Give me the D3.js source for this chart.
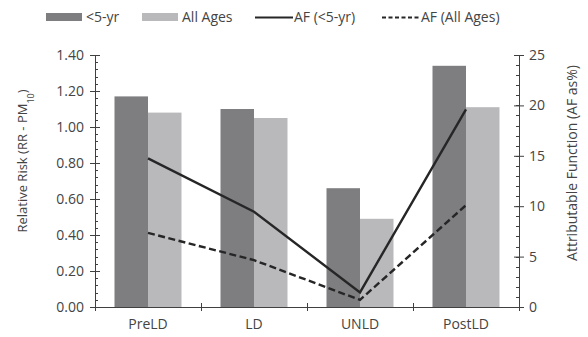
<!DOCTYPE html>
<html>
<head>
<meta charset="utf-8">
<script src="https://cdn.jsdelivr.net/npm/d3@7"></script>
<style>
body { margin: 0; background: #fff; }
text { font-family: "Open Sans", sans-serif; fill: #444; }
</style>
</head>
<body>
<div id="chart"></div>
<script>
var categories = ["PreLD", "LD", "UNLD", "PostLD"];
var rrUnder5 = [1.17, 1.10, 0.66, 1.34];
var rrAllAges = [1.08, 1.05, 0.49, 1.11];
var afUnder5 = [14.75, 9.45, 1.45, 19.6];
var afAllAges = [7.35, 4.65, 0.7, 10.1];
var leftTicks = [0, 0.2, 0.4, 0.6, 0.8, 1.0, 1.2, 1.4];
var rightTicks = [0, 5, 10, 15, 20, 25];

var W = 588, H = 337;
var margin = { top: 55, right: 69, bottom: 30, left: 95 };
var width = W - margin.left - margin.right;
var height = H - margin.top - margin.bottom;

var svg = d3.select("#chart").append("svg")
	.attr("width", W)
	.attr("height", H);

var g = svg.append("g")
	.attr("transform", "translate(" + margin.left + "," + margin.top + ")");

var x0 = d3.scaleBand().domain(categories).range([0, width]).paddingInner(0).paddingOuter(0);
var x1 = d3.scaleBand().domain([0, 1]).range([19.5, x0.bandwidth() - 19.5]).padding(0);
var yL = d3.scaleLinear().domain([0, 1.4]).range([height, 0]);
var yR = d3.scaleLinear().domain([0, 25]).range([height, 0]);

var colors = ["#7e7e81", "#b9b9bc"];
var axisColor = "#404040";
var fs = "14px";

// bars
var groups = g.selectAll(".grp")
	.data(categories)
	.enter().append("g")
	.attr("transform", function (d) { return "translate(" + x0(d) + ",0)"; });

groups.selectAll("rect")
	.data(function (d, i) { return [rrUnder5[i], rrAllAges[i]]; })
	.enter().append("rect")
	.attr("x", function (d, i) { return x1(i); })
	.attr("y", function (d) { return yL(d); })
	.attr("width", x1.bandwidth())
	.attr("height", function (d) { return height - yL(d); })
	.attr("fill", function (d, i) { return colors[i]; });

// lines
var line = d3.line()
	.x(function (d, i) { return x0(categories[i]) + x0.bandwidth() / 2; })
	.y(function (d) { return yR(d); });

g.append("path").datum(afUnder5)
	.attr("d", line).attr("fill", "none")
	.attr("stroke", "#262626").attr("stroke-width", 2.4);

g.append("path").datum(afAllAges)
	.attr("d", line).attr("fill", "none")
	.attr("stroke", "#262626").attr("stroke-width", 2.4)
	.attr("stroke-dasharray", "7,3.5");

// left axis
var minorL = d3.range(0, 1.4001, 0.04);
g.append("g").selectAll("line").data(minorL).enter().append("line")
	.attr("x1", 0).attr("x2", 3)
	.attr("y1", function (d) { return Math.round(yL(d)) + 0.5; })
	.attr("y2", function (d) { return Math.round(yL(d)) + 0.5; })
	.attr("stroke", axisColor);

var axL = g.append("g")
	.call(d3.axisLeft(yL).tickValues(leftTicks).tickFormat(d3.format(".2f")).tickSize(5).tickSizeOuter(0));
axL.select(".domain").attr("stroke", axisColor);
axL.selectAll(".tick line").attr("stroke", axisColor).attr("x2", 5).attr("x1", -5);
axL.selectAll(".tick text").attr("x", -11).style("font-size", fs).style("fill", "#444");

// right axis
var minorR = d3.range(0, 25.001, 1);
g.append("g").selectAll("line").data(minorR).enter().append("line")
	.attr("x1", width - 3).attr("x2", width)
	.attr("y1", function (d) { return Math.round(yR(d)) + 0.5; })
	.attr("y2", function (d) { return Math.round(yR(d)) + 0.5; })
	.attr("stroke", axisColor);

var axR = g.append("g")
	.attr("transform", "translate(" + width + ",0)")
	.call(d3.axisRight(yR).tickValues(rightTicks).tickSize(5).tickSizeOuter(0));
axR.select(".domain").attr("stroke", axisColor);
axR.selectAll(".tick line").attr("stroke", axisColor).attr("x1", -5).attr("x2", 5);
axR.selectAll(".tick text").attr("x", 10).style("font-size", fs).style("fill", "#444");

// x axis
var axX = g.append("g")
	.attr("transform", "translate(0," + height + ")")
	.call(d3.axisBottom(x0).tickSize(0).tickSizeOuter(0));
axX.select(".domain").attr("stroke", axisColor).attr("stroke-width", 1.2);
axX.selectAll(".tick text").attr("y", 12).style("font-size", fs).style("fill", "#444");

g.append("g").selectAll("line")
	.data(d3.range(0, categories.length + 1))
	.enter().append("line")
	.attr("x1", function (i) { return Math.round(i * x0.bandwidth()) + 0.5; })
	.attr("x2", function (i) { return Math.round(i * x0.bandwidth()) + 0.5; })
	.attr("y1", height - 4).attr("y2", height + 4)
	.attr("stroke", axisColor);

// axis titles
var tl = svg.append("text")
	.attr("transform", "translate(27,161) rotate(-90)")
	.attr("text-anchor", "middle")
	.style("font-size", "13px");
tl.append("tspan").text("Relative Risk (RR - PM");
tl.append("tspan").text("10").attr("baseline-shift", "sub").style("font-size", "9px");
tl.append("tspan").text(")");

svg.append("text")
	.attr("transform", "translate(577,163) rotate(-90)")
	.attr("text-anchor", "middle")
	.style("font-size", fs)
	.text("Attributable Function (AF as%)");

// legend
var legend = svg.append("g").attr("transform", "translate(0,17)");
var items = [
	{ label: "<5-yr", type: "bar", color: colors[0], x: 46 },
	{ label: "All Ages", type: "bar", color: colors[1], x: 142 },
	{ label: "AF (<5-yr)", type: "line", dash: null, x: 255 },
	{ label: "AF (All Ages)", type: "line", dash: "4,2.5", x: 382 }
];
items.forEach(function (it) {
	if (it.type === "bar") {
		legend.append("rect").attr("x", it.x).attr("y", -4).attr("width", 36).attr("height", 8).attr("fill", it.color);
		legend.append("text").attr("x", it.x + 40).attr("y", 5).style("font-size", fs).style("fill", "#444").text(it.label);
	} else {
		legend.append("line").attr("x1", it.x).attr("x2", it.x + 38).attr("y1", 0.5).attr("y2", 0.5)
			.attr("stroke", "#262626").attr("stroke-width", 2).attr("stroke-dasharray", it.dash);
		legend.append("text").attr("x", it.x + 39).attr("y", 5).style("font-size", fs).style("fill", "#444").text(it.label);
	}
});
</script>
</body>
</html>
